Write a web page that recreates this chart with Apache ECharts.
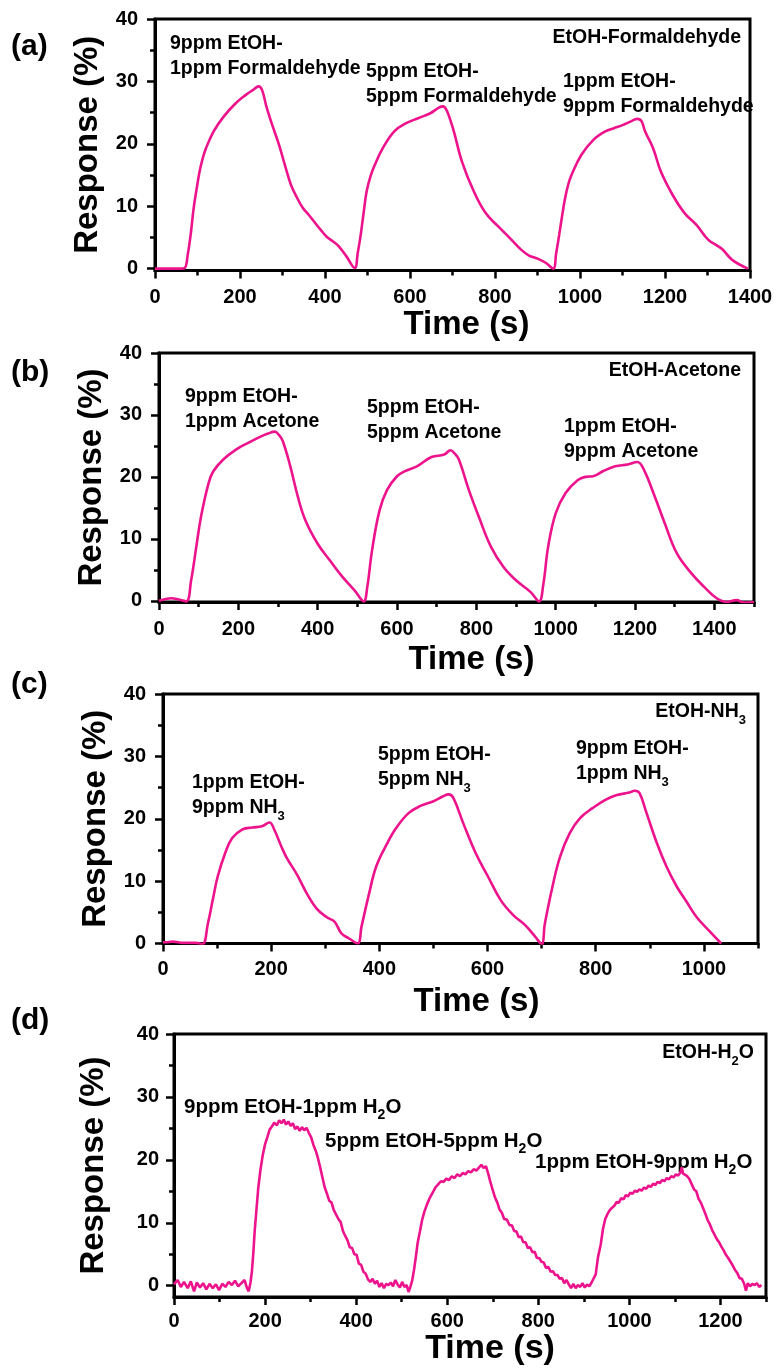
<!DOCTYPE html>
<html>
<head>
<meta charset="utf-8">
<script src="https://cdn.jsdelivr.net/npm/echarts@6/dist/echarts.min.js"></script>
<style>
  html, body { margin: 0; padding: 0; background: #fff; }
  #chart { width: 777px; height: 1369px; }
</style>
</head>
<body>
<div id="chart"></div>
<script>
// Sensor response transients to binary ethanol mixtures: [time (s), response (%)]
const etohFormaldehyde = [
  [0,0],[20,0],[40,0],[60,0],[70,0.1],[77,2.2],[84,5.5],[91,9.7],[98,12.8],[105,15.6],[112,17.6],[120,19.3],
  [138,22],[162,24.4],[190,26.5],[213,27.8],[230,28.6],[244,29.2],[252,28.6],[262,26],[273,23.6],[292,19.8],
  [306,16.5],[320,13.4],[334,11.4],[348,9.7],[362,8.6],[376,7.4],[390,6.2],[404,5.1],[418,4.4],[432,3.6],
  [450,2],[470,0.1],[477,2.5],[484,5.4],[491,9],[498,12.4],[507,14.8],[517,16.6],[536,19.3],[563,22],
  [591,23.3],[619,24.1],[648,24.9],[668,25.8],[678,26],[686,25.4],[695,23.8],[704,21.8],[722,17.2],[750,12.4],
  [778,8.9],[807,6.8],[835,4.9],[862,3.0],[880,2.1],[900,1.6],[920,0.9],[937,0],[944,2.5],[951,5.4],[958,8.5],
  [965,11.3],[972,13.4],[980,15],[1003,18.2],[1031,20.6],[1060,22],[1080,22.5],[1100,23],[1120,23.6],[1135,24],
  [1145,23.6],[1153,22],[1172,19.3],[1190,15.6],[1218,11.8],[1246,8.9],[1274,7],[1302,4.6],[1320,3.8],
  [1335,3.1],[1358,1.4],[1395,0]
];

const etohAcetone = [
  [0,0],[12,0.2],[31,0.4],[50,0.2],[69,-0.1],[81,3.3],[94,8.7],[106,13.6],[125,19],[137,20.9],[162,22.8],
  [194,24.4],[225,25.5],[256,26.5],[275,27],[292,27.3],[302,26.8],[312,25.8],[331,21.7],[350,16.8],[369,13],
  [400,9.2],[431,6.5],[462,3.9],[494,1.6],[516,-0.1],[525,2.2],[537,8.1],[556,14.6],[575,17.9],[600,20.1],
  [619,20.9],[650,21.7],[687,23.2],[719,23.6],[735,24.3],[745,23.8],[756,22.8],[781,17.9],[806,13.6],[837,8.7],
  [869,5.4],[900,3.3],[937,1.4],[958,-0.1],[969,2.7],[981,8.7],[1000,14.1],[1025,17.4],[1056,19.5],[1075,20],
  [1094,20.1],[1119,20.9],[1150,21.7],[1181,22],[1206,22.4],[1222,21.2],[1250,16.8],[1275,12.5],[1306,7.6],
  [1344,4.3],[1375,2.2],[1406,0.4],[1431,-0.2],[1456,0.1],[1475,-0.3],[1500,-0.2]
];

const etohNH3 = [
  [0,0.2],[5,0.2],[18,0.3],[37,0.1],[60,0.1],[73,-0.1],[83,3.2],[92,7],[101,10.7],[115,14.5],[128,16.9],
  [147,18.3],[165,18.6],[183,18.8],[197,19.4],[206,18.2],[220,15.3],[229,13.7],[248,11],[266,8],[284,5.6],
  [303,4.2],[317,3.5],[330,1.6],[344,0.8],[360,0],[367,2.7],[381,8],[394,12.3],[413,15.8],[431,18.5],
  [454,20.9],[477,22.1],[500,22.8],[518,23.6],[528,23.9],[537,23.3],[555,19.3],[578,14.5],[601,10.7],[624,7],
  [647,4.6],[670,2.9],[688,1.1],[700,-0.1],[706,3.2],[720,9.1],[734,13.9],[752,17.7],[771,20.1],[794,21.7],
  [817,23],[839,23.8],[862,24.2],[872,24.5],[881,24.1],[894,20.9],[913,16.1],[931,12.3],[950,9.1],[968,6.7],
  [986,4.3],[1009,2.1],[1032,0]
];

const etohH2O = [
  [0,0.2],[8,0.9],[15,-0.2],[22,0.6],[30,-0.4],[37,0.7],[44,-0.9],[50,0.5],[57,-0.3],[64,0.4],[71,-0.6],
  [78,0.3],[85,-0.4],[92,0.2],[99,-0.7],[106,0.3],[113,-0.2],[120,0.6],[127,0.1],[134,0.8],[141,-0.1],
  [148,0.4],[155,0.9],[160,-0.3],[164,-0.9],[168,0.5],[171,2.2],[174,5],[177,8.5],[181,12],[185,15.5],
  [190,18.5],[195,20.8],[200,22.5],[205,23.6],[210,24.8],[215,25.3],[220,25.9],[226,25.5],[231,26.3],
  [236,25.8],[241,26.4],[246,25.6],[251,26.1],[256,25.4],[261,25.8],[266,24.9],[271,25.3],[276,24.6],
  [281,25.2],[286,24.7],[291,25.1],[296,24.3],[301,23.6],[306,22.4],[311,21.5],[316,20.3],[321,18.8],
  [326,17.2],[331,15.6],[336,14.6],[341,13.5],[346,13.2],[351,12.0],[356,11.3],[361,10.6],[366,10.1],
  [371,8.7],[376,7.9],[381,7.2],[386,6.1],[391,6.0],[396,5.0],[401,4.9],[406,3.5],[411,3.3],[416,2.2],
  [421,1.9],[426,1.0],[431,0.6],[436,1.1],[441,0.3],[446,0.8],[451,-0.2],[456,0.4],[461,-0.4],[466,0.3],
  [471,0.1],[476,0.5],[481,-0.1],[486,0.9],[491,0.2],[496,-0.3],[501,0.6],[506,-0.2],[511,0.1],[515,-1.0],
  [519,-0.2],[523,0.8],[527,2.5],[531,4.5],[535,6.8],[540,8.6],[545,10.5],[550,11.8],[556,13],[562,14],
  [568,14.8],[574,15.6],[580,16.1],[586,16.6],[592,16.5],[598,17.0],[604,16.8],[610,17.4],[616,17.1],
  [622,17.7],[628,17.4],[634,17.9],[640,17.7],[646,18.2],[652,18.0],[658,18.5],[664,18.3],[670,18.8],
  [675,19.2],[680,18.7],[685,19.0],[690,17.8],[695,16.4],[700,15.2],[705,14.0],[710,13.2],[715,12.1],
  [720,11.6],[725,10.6],[731,10.5],[737,9.6],[742,9.6],[747,8.7],[752,8.6],[757,7.7],[762,7.8],[767,6.9],
  [772,6.9],[777,6.0],[782,6.1],[787,5.3],[792,5.4],[797,4.4],[802,4.4],[807,3.8],[812,3.7],[817,2.8],
  [822,3.0],[827,2.2],[832,2.3],[837,1.7],[842,1.7],[847,1.1],[852,1.2],[857,0.4],[862,0.9],[867,0.2],
  [872,-0.4],[877,0.3],[882,-0.4],[887,0.1],[892,-0.2],[897,0.4],[902,-0.3],[907,0.2],[912,-0.1],[917,0.5],
  [921,0.6],[926,1.8],[931,4.5],[937,6.5],[942,9],[947,10.6],[952,11.4],[957,12],[962,12.4],[967,12.7],
  [972,13.3],[977,13.2],[982,13.9],[987,13.7],[992,14.4],[997,14.2],[1002,14.8],[1007,14.6],[1012,15.1],
  [1017,14.9],[1022,15.3],[1027,15.1],[1032,15.6],[1037,15.4],[1042,15.9],[1047,15.7],[1052,16.2],
  [1057,16.0],[1062,16.5],[1067,16.3],[1072,16.8],[1077,16.6],[1082,17.1],[1087,16.9],[1092,17.4],
  [1097,17.2],[1102,17.7],[1107,17.5],[1112,18.0],[1115,18.8],[1118,17.8],[1122,18.1],[1127,17.4],
  [1132,16.9],[1137,16.1],[1142,15.3],[1147,15.0],[1152,13.8],[1157,13.2],[1162,12.3],[1167,11.4],
  [1172,10.4],[1177,9.7],[1182,8.8],[1187,8.1],[1192,7.4],[1197,6.9],[1202,6.2],[1207,5.6],[1212,4.9],
  [1217,4.4],[1222,3.8],[1227,3.2],[1232,2.5],[1237,2.0],[1242,1.2],[1247,1.1],[1252,0.3],[1256,-0.8],
  [1260,0.4],[1265,-0.1],[1270,0.3],[1275,0.1],[1280,0.4],[1285,-0.2],[1290,0.1]
];

// Axis tick values
const responseTicks = [0, 10, 20, 30, 40];
const responseMinorTicks = [5, 15, 25, 35];
const timeTicksA = [0, 200, 400, 600, 800, 1000, 1200, 1400];
const timeMinorA = [100, 300, 500, 700, 900, 1100, 1300];
const timeTicksB = [0, 200, 400, 600, 800, 1000, 1200, 1400];
const timeMinorB = [100, 300, 500, 700, 900, 1100, 1300, 1500];
const timeTicksC = [0, 200, 400, 600, 800, 1000];
const timeMinorC = [100, 300, 500, 700, 900, 1100];
const timeTicksD = [0, 200, 400, 600, 800, 1000, 1200];
const timeMinorD = [100, 300, 500, 700, 900, 1100, 1300];

// Text
const panelLetters = ['(a)', '(b)', '(c)', '(d)'];
const mixtureTitles = ['EtOH-Formaldehyde', 'EtOH-Acetone', 'EtOH-NH{s|3}', 'EtOH-H{s|2}O'];
const mixLabelsA = [['9ppm EtOH-', '1ppm Formaldehyde'], ['5ppm EtOH-', '5ppm Formaldehyde'], ['1ppm EtOH-', '9ppm Formaldehyde']];
const mixLabelsB = [['9ppm EtOH-', '1ppm Acetone'], ['5ppm EtOH-', '5ppm Acetone'], ['1ppm EtOH-', '9ppm Acetone']];
const mixLabelsC = [['1ppm EtOH-', '9ppm NH{s|3}'], ['5ppm EtOH-', '5ppm NH{s|3}'], ['9ppm EtOH-', '1ppm NH{s|3}']];
const mixLabelsD = [['9ppm EtOH-1ppm H{s|2}O'], ['5ppm EtOH-5ppm H{s|2}O'], ['1ppm EtOH-9ppm H{s|2}O']];

const FONT = '"Liberation Sans", Arial, Helvetica, sans-serif';
const LINE_COLOR = '#ec138c';

// Layout of the four stacked panels (pixels)
const panels = [
  { data: etohFormaldehyde, left: 155, top: 19, width: 595, height: 251.5, yMin: -0.3, xMax: 1400,
    ticks: timeTicksA, minor: timeMinorA, xLabelMargin: 17, xNameGap: 36, xNameSize: 33, xNameShift: 28,
    yLabelMargin: 17, yNameGap: 45,
    smooth: 0.4, letterY: 47, titleX: 741, titleY: 38, labels: mixLabelsA,
    labelPos: [[170, 44], [366, 72], [563, 82]], lineGap: 24.5, annSize: 19.5 },
  { data: etohAcetone, left: 159, top: 353, width: 595, height: 249, yMin: -0.2, xMax: 1500,
    ticks: timeTicksB, minor: timeMinorB, xLabelMargin: 17, xNameGap: 41, xNameSize: 33, xNameShift: 30,
    yLabelMargin: 17, yNameGap: 44,
    smooth: 0.4, letterY: 373, titleX: 741, titleY: 371, labels: mixLabelsB,
    labelPos: [[185, 397], [367, 408], [564, 427]], lineGap: 25, annSize: 19.5 },
  { data: etohNH3, left: 163, top: 694, width: 595, height: 249.5, yMin: 0, xMax: 1100,
    ticks: timeTicksC, minor: timeMinorC, xLabelMargin: 16, xNameGap: 42, xNameSize: 33, xNameShift: 32,
    yLabelMargin: 17, yNameGap: 41,
    smooth: 0.4, letterY: 685, titleX: 746, titleY: 712, labels: mixLabelsC,
    labelPos: [[192, 783], [378, 755], [576, 749]], lineGap: 25, annSize: 19.5 },
  { data: etohH2O, left: 174, top: 1034, width: 592, height: 263, yMin: -1.8, xMax: 1300,
    ticks: timeTicksD, minor: timeMinorD, xLabelMargin: 14, xNameGap: 29, xNameSize: 34, xNameShift: 40,
    yLabelMargin: 15, yNameGap: 64,
    smooth: false, letterY: 1021, titleX: 754, titleY: 1053, labels: mixLabelsD,
    labelPos: [[184, 1107], [325, 1141], [535, 1162]], lineGap: 0, annSize: 20.5 }
];

const grids = [], xAxes = [], yAxes = [], series = [], graphics = [];

function tickLabelStyle() {
  return { fontSize: 20, fontWeight: 'bold', fontFamily: FONT, color: '#000',
           formatter: function (v) { return String(v); } };
}

function textEl(x, y, text, size, align) {
  const sub = Math.round(size * 0.68);
  return {
    type: 'text', x: x, y: y, silent: true,
    style: {
      text: text, fill: '#000',
      fontSize: size, fontWeight: 'bold', fontFamily: FONT,
      align: align || 'left', verticalAlign: 'middle',
      textAlign: align || 'left', textVerticalAlign: 'middle',
      rich: {
        s: { fontSize: sub, fontWeight: 'bold', fontFamily: FONT, fill: '#000',
             verticalAlign: 'top', lineHeight: sub, padding: [Math.round(size * 0.6), 0, 0, 0] }
      }
    }
  };
}

panels.forEach(function (p, i) {
  grids.push({
    left: p.left, top: p.top, width: p.width, height: p.height,
    show: true, borderColor: '#000', borderWidth: 3, backgroundColor: 'transparent',
    containLabel: false, outerBoundsMode: 'none'
  });

  // time axis: labels and major ticks
  xAxes.push({
    type: 'value', gridIndex: i, min: 0, max: p.xMax, position: 'bottom',
    name: 'Time (s)', nameLocation: 'middle', nameGap: p.xNameGap,
    nameTextStyle: { fontSize: p.xNameSize, fontWeight: 'bold', fontFamily: FONT, color: '#000',
                     padding: [0, 0, 0, p.xNameShift] },
    axisLine: { show: true, onZero: false, lineStyle: { color: '#000', width: 3 } },
    axisTick: { show: true, inside: false, length: 8, customValues: p.ticks, lineStyle: { color: '#000', width: 2.5 } },
    axisLabel: Object.assign({ show: true, margin: p.xLabelMargin, customValues: p.ticks }, tickLabelStyle()),
    splitLine: { show: false }
  });
  // time axis: minor ticks
  xAxes.push({
    type: 'value', gridIndex: i, min: 0, max: p.xMax, position: 'bottom',
    axisLine: { show: false, onZero: false },
    axisTick: { show: true, inside: false, length: 5, customValues: p.minor, lineStyle: { color: '#000', width: 2.5 } },
    axisLabel: { show: false },
    splitLine: { show: false }
  });

  yAxes.push({
    type: 'value', gridIndex: i, min: p.yMin, max: 40, position: 'left',
    name: 'Response (%)', nameLocation: 'middle', nameGap: p.yNameGap,
    nameTextStyle: { fontSize: 33, fontWeight: 'bold', fontFamily: FONT, color: '#000' },
    axisLine: { show: true, onZero: false, lineStyle: { color: '#000', width: 3 } },
    axisTick: { show: true, inside: false, length: 8, customValues: responseTicks, lineStyle: { color: '#000', width: 2.5 } },
    axisLabel: Object.assign({ show: true, margin: p.yLabelMargin, customValues: responseTicks }, tickLabelStyle()),
    splitLine: { show: false }
  });
  yAxes.push({
    type: 'value', gridIndex: i, min: p.yMin, max: 40, position: 'left',
    axisLine: { show: false, onZero: false },
    axisTick: { show: true, inside: false, length: 5, customValues: responseMinorTicks, lineStyle: { color: '#000', width: 2.5 } },
    axisLabel: { show: false },
    splitLine: { show: false }
  });

  series.push({
    type: 'line', xAxisIndex: 2 * i, yAxisIndex: 2 * i,
    data: p.data, showSymbol: false, symbol: 'none',
    smooth: p.smooth,
    lineStyle: { color: LINE_COLOR, width: 2.6 },
    animation: false
  });

  graphics.push(textEl(11, p.letterY, panelLetters[i], 30, 'left'));
  graphics.push(textEl(p.titleX, p.titleY, mixtureTitles[i], 19.5, 'right'));
  p.labels.forEach(function (lines, k) {
    lines.forEach(function (line, j) {
      graphics.push(textEl(p.labelPos[k][0], p.labelPos[k][1] + j * p.lineGap, line, p.annSize, 'left'));
    });
  });
});

const chart = echarts.init(document.getElementById('chart'), null, { renderer: 'canvas' });
chart.setOption({
  animation: false,
  backgroundColor: '#fff',
  grid: grids,
  xAxis: xAxes,
  yAxis: yAxes,
  series: series,
  graphic: { elements: graphics }
});
</script>
</body>
</html>
